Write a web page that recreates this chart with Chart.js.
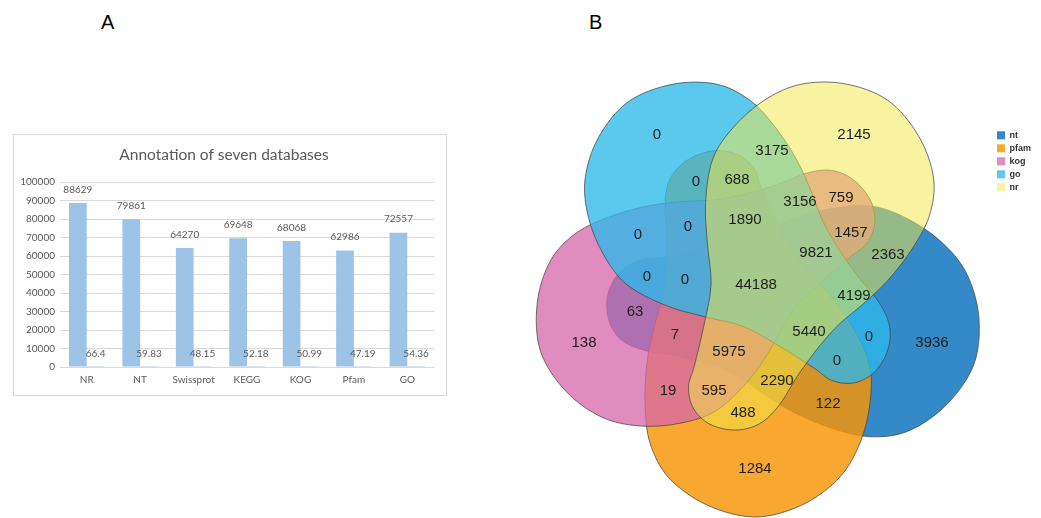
<!DOCTYPE html>
<html>
<head>
<meta charset="utf-8">
<title>Unigene annotation</title>
<script src="https://cdn.jsdelivr.net/npm/chart.js@4.4.1/dist/chart.umd.min.js"></script>
<style>
  html, body { margin: 0; padding: 0; background: #ffffff; }
  body { position: relative; width: 1041px; height: 518px; overflow: hidden; font-family: "Liberation Sans", Arial, sans-serif; }
  .panel-tag { position: absolute; top: 10px; font-size: 20px; line-height: 24px; color: #000; }
  #frameA { position: absolute; left: 13px; top: 134px; width: 432px; height: 260px; border: 1px solid #d9d9d9; }
  #frameB { position: absolute; left: 520px; top: 0; width: 521px; height: 518px; }
  canvas { display: block; }
</style>
</head>
<body>
<div class="panel-tag" style="left:101px">A</div>
<div class="panel-tag" style="left:589px">B</div>
<div id="frameA"><canvas id="barChart" width="432" height="260"></canvas></div>
<div id="frameB"><canvas id="vennChart" width="521" height="518"></canvas></div>
<script>
// ---------- Panel A: annotated unigenes per database ----------
const databases = ['NR', 'NT', 'Swissprot', 'KEGG', 'KOG', 'Pfam', 'GO'];
const annotatedCounts = [88629, 79861, 64270, 69648, 68068, 62986, 72557];
const annotatedPercent = [66.4, 59.83, 48.15, 52.18, 50.99, 47.19, 54.36];
const countAxisMax = 100000;
const countAxisStep = 10000;

// ---------- Panel B: overlap of the five annotation sets ----------
const setNames = ['nt', 'pfam', 'kog', 'go', 'nr'];
const regionCounts = [0, 2145, 3175, 0, 688, 3156, 759, 1890, 0, 0, 1457, 9821, 2363, 0, 0,
  44188, 4199, 63, 138, 7, 5440, 0, 3936, 5975, 0, 2290, 19, 595, 122, 488, 1284];

// Layout of the diagram (page pixel units on the hidden axes)
const regionAnchors = [
  [657, 135], [854, 135], [772, 151], [696, 182], [737, 180], [800, 202], [841, 198], [745, 220],
  [638, 235], [688, 227], [851, 233], [816, 253], [888, 255], [647, 277], [685, 280], [756, 285],
  [854, 296], [635, 312], [584, 343], [675, 335], [809, 332], [869, 337], [932, 343], [729, 352],
  [837, 361], [777, 381], [668, 391], [714, 391], [828, 404], [743, 413], [755, 469]
];
const vennCenter = [757, 283];
// one lobe outline in local (along-axis, across-axis) units, lobe first, tip at negative u
const lobeTemplate = [
  [234, 2], [222, 50], [195, 88], [160, 107], [120, 112], [80, 110], [45, 103], [15, 95],
  [-15, 91], [-50, 90], [-82, 92], [-106, 88], [-123, 76], [-134, 58], [-138, 38], [-133, 18],
  [-119, 3], [-100, -4], [-65, -19], [-27, -38], [3, -65], [38, -92], [80, -112], [120, -113],
  [160, -103], [195, -82], [222, -45]
];
const setAngles = [20, 90, 162, 234, 305];
const setScales = [0.99, 1.0, 0.97, 0.95, 0.96];
const setTipStretch = [1, 0.96, 1, 1.08, 1.08];
const setTipBend = [18, 0, 0, 0, 0];
const setFills = [
  'rgba(52,137,201,1)',
  'rgba(246,149,6,0.83)',
  'rgba(214,104,170,0.76)',
  'rgba(45,185,233,0.78)',
  'rgba(242,232,74,0.52)'
];

function setOutline(k) {
  const th = setAngles[k] * Math.PI / 180;
  const s = setScales[k];
  const ux = Math.cos(th), uy = Math.sin(th);
  const vx = -uy, vy = ux;
  return lobeTemplate.map(([u, v]) => {
    let uu = u, vv = v;
    if (u < 0) {
      uu = u * setTipStretch[k];
      vv = v + setTipBend[k] * (-u / 138);
    }
    return {
      x: vennCenter[0] + s * (uu * ux + vv * vx),
      y: vennCenter[1] + s * (uu * uy + vv * vy)
    };
  });
}

function traceClosedSpline(ctx, pts) {
  const n = pts.length;
  ctx.moveTo(pts[0].x, pts[0].y);
  for (let i = 0; i < n; i++) {
    const p0 = pts[(i - 1 + n) % n], p1 = pts[i], p2 = pts[(i + 1) % n], p3 = pts[(i + 2) % n];
    ctx.bezierCurveTo(
      p1.x + (p2.x - p0.x) / 6, p1.y + (p2.y - p0.y) / 6,
      p2.x - (p3.x - p1.x) / 6, p2.y - (p3.y - p1.y) / 6,
      p2.x, p2.y);
  }
  ctx.closePath();
}

const axisGrey = '#595959';

// value labels above every bar
const barValueLabels = {
  id: 'barValueLabels',
  afterDatasetsDraw(chart) {
    const ctx = chart.ctx;
    ctx.save();
    ctx.font = '10px Lato';
    ctx.fillStyle = axisGrey;
    ctx.textAlign = 'center';
    ctx.textBaseline = 'middle';
    chart.data.datasets.forEach((ds, i) => {
      chart.getDatasetMeta(i).data.forEach((bar, j) => {
        ctx.fillText(String(ds.data[j]), bar.x, bar.y - 13.5);
      });
    });
    ctx.restore();
  }
};

new Chart(document.getElementById('barChart'), {
  type: 'bar',
  data: {
    labels: databases,
    datasets: [
      { label: 'Annotated unigenes', data: annotatedCounts, backgroundColor: '#9dc3e6' },
      { label: 'Annotated (%)', data: annotatedPercent, backgroundColor: '#9dc3e6' }
    ]
  },
  options: {
    responsive: false,
    animation: false,
    events: [],
    layout: { padding: { left: 0, right: 12, top: 0, bottom: 0 } },
    datasets: { bar: { categoryPercentage: 0.663, barPercentage: 1.0 } },
    plugins: {
      legend: { display: false },
      tooltip: { enabled: false },
      title: {
        display: true,
        text: 'Annotation of seven databases',
        color: axisGrey,
        font: { family: 'Lato', size: 15.5, weight: 'normal' },
        padding: { top: 11, bottom: 17.4 }
      }
    },
    scales: {
      x: {
        grid: { display: false, drawTicks: false },
        border: { display: false },
        ticks: { color: axisGrey, font: { family: 'Lato', size: 10 }, padding: 7, maxRotation: 0, autoSkip: false },
        afterFit: (scale) => { scale.height = 28; }
      },
      y: {
        min: 0,
        max: countAxisMax,
        grid: { color: '#d9d9d9', drawTicks: false },
        border: { display: false },
        ticks: {
          stepSize: countAxisStep,
          color: axisGrey,
          font: { family: 'Lato', size: 10 },
          padding: 5,
          callback: (v) => String(v)
        },
        afterFit: (scale) => { scale.width = 46; }
      }
    }
  },
  plugins: [barValueLabels]
});

// draws each set as a smooth closed region through its outline points
const vennShapes = {
  id: 'vennShapes',
  beforeDatasetsDraw(chart) {
    const ctx = chart.ctx;
    for (let k = 0; k < setNames.length; k++) {
      const ds = chart.data.datasets[k];
      const pts = chart.getDatasetMeta(k).data.map(p => ({ x: p.x, y: p.y }));
      ctx.save();
      ctx.beginPath();
      traceClosedSpline(ctx, pts);
      ctx.fillStyle = ds.backgroundColor;
      ctx.fill();
      ctx.lineWidth = ds.borderWidth;
      ctx.strokeStyle = ds.borderColor;
      ctx.stroke();
      ctx.restore();
    }
  }
};

// writes the count of every overlap region
const vennCounts = {
  id: 'vennCounts',
  afterDatasetsDraw(chart) {
    const ctx = chart.ctx;
    const meta = chart.getDatasetMeta(setNames.length);
    ctx.save();
    ctx.font = '15px "Liberation Sans", Arial, sans-serif';
    ctx.fillStyle = '#1e1e1e';
    ctx.textAlign = 'center';
    ctx.textBaseline = 'middle';
    meta.data.forEach((pt, i) => {
      ctx.fillText(String(regionCounts[i]), pt.x, pt.y);
    });
    ctx.restore();
  }
};

const vennDatasets = setNames.map((name, k) => ({
  label: name,
  data: setOutline(k),
  backgroundColor: setFills[k],
  borderColor: 'rgba(70,70,70,0.75)',
  borderWidth: 1,
  pointRadius: 0,
  showLine: false
}));
vennDatasets.push({
  label: 'region counts',
  data: regionAnchors.map(([x, y]) => ({ x, y })),
  pointRadius: 0,
  showLine: false
});

new Chart(document.getElementById('vennChart'), {
  type: 'scatter',
  data: { datasets: vennDatasets },
  options: {
    responsive: false,
    animation: false,
    events: [],
    layout: { padding: 0 },
    plugins: {
      tooltip: { enabled: false },
      legend: {
        position: 'right',
        align: 'start',
        title: { display: true, text: '', font: { size: 9 }, padding: { top: 116, bottom: 0 } },
        labels: {
          boxWidth: 8,
          boxHeight: 8,
          padding: 4,
          color: '#333',
          font: { family: 'Liberation Sans', size: 9, weight: 'bold' },
          generateLabels: () => setNames.map((name, k) => ({
            text: name, fillStyle: setFills[k], strokeStyle: setFills[k],
            lineWidth: 0, hidden: false, datasetIndex: k, fontColor: '#333'
          }))
        }
      }
    },
    scales: {
      x: { type: 'linear', min: 520, max: 993, display: false },
      y: { type: 'linear', min: 0, max: 518, reverse: true, display: false }
    }
  },
  plugins: [vennShapes, vennCounts]
});
</script>
</body>
</html>
